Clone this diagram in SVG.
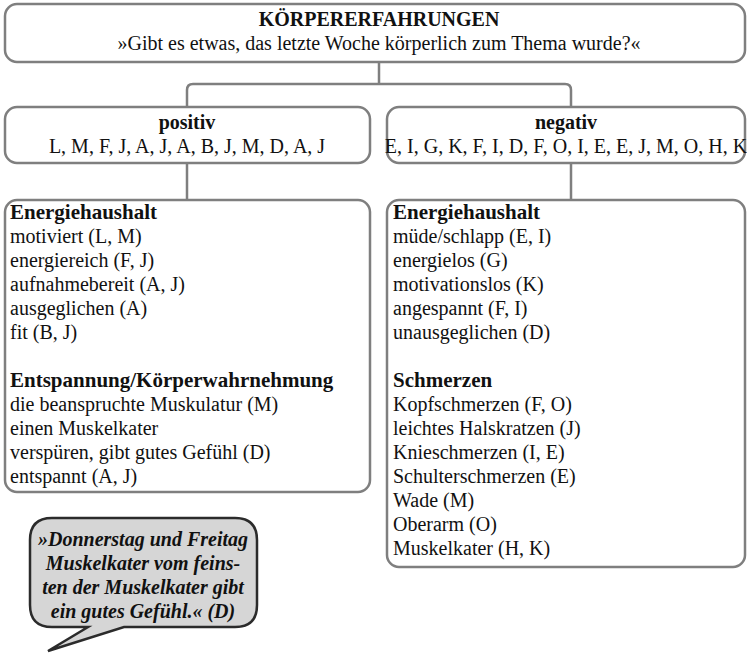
<svg xmlns="http://www.w3.org/2000/svg" width="747" height="657" viewBox="0 0 747 657">
<style>
.box{fill:#fff;stroke:#7f7f7f;stroke-width:2.5}
.con{fill:none;stroke:#7f7f7f;stroke-width:2.5}
text{font-family:"Liberation Serif","Times New Roman",serif;font-size:20px;fill:#111}
.b{font-weight:bold}
.h{font-weight:bold;font-size:21px}
.c{text-anchor:middle}
.q{font-weight:bold;font-style:italic;text-anchor:middle}
.bub{fill:#d6d6d6;stroke:#2b2b2b;stroke-width:2.5}
</style>
<rect width="747" height="657" fill="#fff"/>
<g id="connectors">
<path class="con" d="M379,62 V84"/>
<path class="con" d="M187,107 V90 Q187,84 193,84 H565 Q571,84 571,90 V107"/>
<path class="con" d="M187,163 V200"/>
<path class="con" d="M571,163 V200"/>
</g>
<g id="root">
<rect class="box" x="5" y="4" width="740" height="58" rx="12"/>
<text class="b c" x="379" y="26">KÖRPERERFAHRUNGEN</text>
<text class="c" x="379" y="50">»Gibt es etwas, das letzte Woche körperlich zum Thema wurde?«</text>
</g>
<g id="positiv">
<rect class="box" x="5" y="107" width="365" height="56" rx="12"/>
<text class="b c" x="187" y="129">positiv</text>
<text class="c" x="187" y="153">L, M, F, J, A, J, A, B, J, M, D, A, J</text>
</g>
<g id="negativ">
<rect class="box" x="387" y="107" width="358" height="56" rx="12"/>
<text class="b c" x="566" y="129">negativ</text>
<text class="c" x="566" y="153">E, I, G, K, F, I, D, F, O, I, E, E, J, M, O, H, K</text>
</g>
<g id="positiv-details">
<rect class="box" x="5" y="200" width="365" height="292" rx="12"/>
<text x="10" y="219">
<tspan class="h" x="10" y="219">Energiehaushalt</tspan>
<tspan x="10" y="243">motiviert (L, M)</tspan>
<tspan x="10" y="267">energiereich (F, J)</tspan>
<tspan x="10" y="291">aufnahmebereit (A, J)</tspan>
<tspan x="10" y="315">ausgeglichen (A)</tspan>
<tspan x="10" y="339">fit (B, J)</tspan>
<tspan class="h" x="10" y="387">Entspannung/Körperwahrnehmung</tspan>
<tspan x="10" y="411">die beanspruchte Muskulatur (M)</tspan>
<tspan x="10" y="435">einen Muskelkater</tspan>
<tspan x="10" y="459">verspüren, gibt gutes Gefühl (D)</tspan>
<tspan x="10" y="483">entspannt (A, J)</tspan>
</text>
</g>
<g id="negativ-details">
<rect class="box" x="387" y="200" width="358" height="367" rx="12"/>
<text x="393" y="219">
<tspan class="h" x="393" y="219">Energiehaushalt</tspan>
<tspan x="393" y="243">müde/schlapp (E, I)</tspan>
<tspan x="393" y="267">energielos (G)</tspan>
<tspan x="393" y="291">motivationslos (K)</tspan>
<tspan x="393" y="315">angespannt (F, I)</tspan>
<tspan x="393" y="339">unausgeglichen (D)</tspan>
<tspan class="h" x="393" y="387">Schmerzen</tspan>
<tspan x="393" y="411">Kopfschmerzen (F, O)</tspan>
<tspan x="393" y="435">leichtes Halskratzen (J)</tspan>
<tspan x="393" y="459">Knieschmerzen (I, E)</tspan>
<tspan x="393" y="483">Schulterschmerzen (E)</tspan>
<tspan x="393" y="507">Wade (M)</tspan>
<tspan x="393" y="531">Oberarm (O)</tspan>
<tspan x="393" y="555">Muskelkater (H, K)</tspan>
</text>
</g>
<g id="quote">
<path class="bub" d="M52,518 H235 Q257,518 257,540 V605 Q257,627 235,627 H124 L48,651 L88,627 H52 Q30,627 30,605 V540 Q30,518 52,518 Z"/>
<text class="q" x="143" y="546">»Donnerstag und Freitag</text>
<text class="q" x="143" y="570">Muskelkater vom feins-</text>
<text class="q" x="143" y="594">ten der Muskelkater gibt</text>
<text class="q" x="143" y="618">ein gutes Gefühl.« (D)</text>
</g>
</svg>
